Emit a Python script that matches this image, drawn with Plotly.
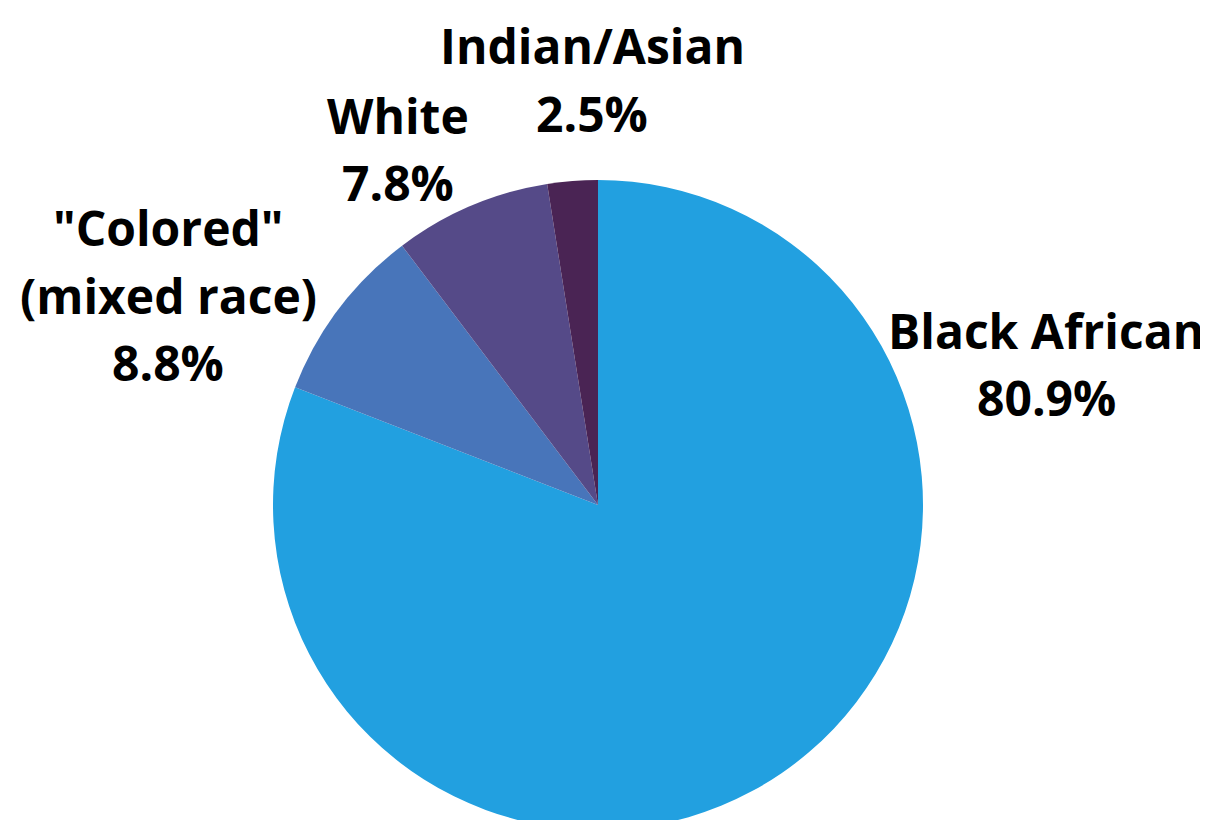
import plotly.graph_objects as go

labels = ["Black African", "\"Colored\" (mixed race)", "White", "Indian/Asian"]
label_lines = [["Black African"], ["\"Colored\"", "(mixed race)"], ["White"], ["Indian/Asian"]]
values = [80.9, 8.8, 7.8, 2.5]
colors = ["#22A0E0", "#4875BA", "#554A88", "#4A2454"]

# page body has an 8px margin; figure coords are offset accordingly
OFF = 8
W, H = 1208, 840
cx, cy, r = 598 - OFF, 505 - OFF, 325

fig = go.Figure(go.Pie(
    labels=labels, values=values, sort=False, direction="clockwise", rotation=0,
    marker=dict(colors=colors, line=dict(width=0)),
    textinfo="none", hoverinfo="label+percent", showlegend=False,
    domain=dict(x=[(cx - r) / W, (cx + r) / W], y=[(H - cy - r) / H, (H - cy + r) / H]),
))

# label anchor positions (pixel centers of first line, page coords) and line spacing
label_pos = [(1046, 332), (168, 230), (398, 117), (592, 48)]
line_gap = 67

annotations = []
for lines, v, (x, y) in zip(label_lines, values, label_pos):
    for i, t in enumerate(lines + [f"{v:.1f}%"]):
        annotations.append(dict(
            x=(x - OFF) / W, y=1 - (y - OFF - 2 + i * line_gap) / H, xref="paper", yref="paper",
            text=t, showarrow=False, xanchor="center", yanchor="middle",
            font=dict(family="Open Sans", size=48, color="#000000", weight="bold"),
        ))

fig.update_layout(
    width=W, height=H, margin=dict(l=0, r=0, t=0, b=0),
    paper_bgcolor="white", plot_bgcolor="white", annotations=annotations,
)
fig.write_html("out.html")
